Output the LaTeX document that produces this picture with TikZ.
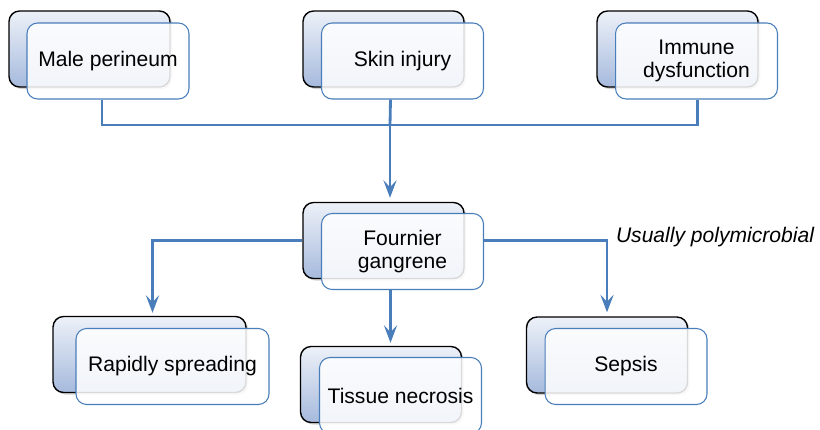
\documentclass[tikz,border=0pt]{standalone}
\usepackage{fontspec}
\setmainfont{Liberation Sans}
\usetikzlibrary{arrows.meta,calc,shadows}

\definecolor{linkblue}{RGB}{74,126,187}
\definecolor{boxtop}{RGB}{237,241,248}
\definecolor{boxbottom}{RGB}{166,186,221}

\begin{document}
\begin{tikzpicture}[x=0.02cm,y=-0.02cm,
    back/.style={draw=black,line width=0.8pt,rounded corners=6pt,top color=boxtop,bottom color=boxbottom,
      minimum width=3.22cm,minimum height=1.52cm,
      drop shadow={shadow xshift=1.2pt,shadow yshift=-1.2pt,opacity=0.35}},
    front/.style={draw=linkblue,line width=0.6pt,rounded corners=6pt,fill=white,fill opacity=0.85,text opacity=1,
      minimum width=3.24cm,minimum height=1.52cm,align=center,font=\fontsize{12}{13}\selectfont},
    link/.style={draw=linkblue,line width=1.6pt},
    arr/.style={link,-{Stealth[length=10pt,width=7.5pt,inset=4pt]}}]
  \useasboundingbox (0,0) rectangle (820,429);

  % causes
  \node[back] (m0) at (89.5,49) {};
  \node[front] (m) at (108,61) {Male perineum};
  \node[back] (s0) at (383.5,49) {};
  \node[front] (s) at (402.5,61) {Skin injury};
  \node[back] (i0) at (677.5,49) {};
  \node[front] (i) at (696.5,61) {Immune\\dysfunction};

  % disease
  \node[back] (f0) at (383.5,240.5) {};
  \node[front] (f) at (402.5,251.5) {Fournier\\gangrene};

  % consequences
  \node[back,minimum width=3.86cm] (r0) at (149.5,354.5) {};
  \node[front,minimum width=3.86cm] (r) at (172.5,366.5) {Rapidly spreading};
  \node[back] (t0) at (381,384.5) {};
  \node[front] (t) at (400.5,395.5) {Tissue necrosis};
  \node[back] (p0) at (607,355) {};
  \node[front] (p) at (626,366.5) {Sepsis};

  \node[font=\fontsize{12}{13}\selectfont\itshape] (note) at (715,237) {Usually polymicrobial};

  % joining lines
  \coordinate (bus) at (390,125);
  \draw[link] ($(m.south)+(-6,0)$) |- (bus) -| ($(i.south)+(1,0)$);
  \draw[link] ($(s.south)+(-12,0)$) -- (bus);
  \draw[arr] (bus) -- ($(f0.north -| bus)+(0,-4)$);

  \coordinate (fs) at ($(f.south)+(-12,0)$);
  \draw[arr] (f0.west) -| ($(r0.north)+(3,-3)$);
  \draw[arr] (f.east |- f0.west) -| ($(p0.north)+(0,-4)$);
  \draw[arr] (fs) -- ($(t0.north -| fs)+(0,-3)$);
\end{tikzpicture}
\end{document}
